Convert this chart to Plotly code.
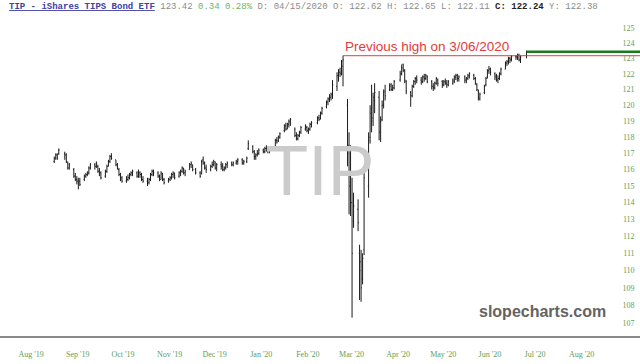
import numpy as np
import pandas as pd
import plotly.graph_objects as go

# ---------------- data ----------------
holidays = ["2019-09-02", "2019-11-28", "2019-12-25", "2020-01-01", "2020-01-20",
            "2020-02-17", "2020-04-10", "2020-05-25", "2020-07-03"]
dates = [d for d in pd.bdate_range("2019-08-27", "2020-07-06")
         if d.strftime("%Y-%m-%d") not in holidays]

open_ = [
    116.5, 116.7, 116.9, 117.0,
    117.0, 116.9, 116.4, 116.1, 116.0, 115.6, 115.4, 115.3, 115.3, 115.4, 115.6, 115.7, 115.8, 116.1,
    116.3, 116.2, 116.2, 115.9, 115.8, 115.6,
    115.9, 116.2, 116.5, 116.8, 116.6, 116.3, 116.0, 115.7, 115.5, 115.3, 115.4, 115.5, 115.7, 115.8,
    115.8, 115.6, 115.8, 115.7, 115.4, 115.3, 115.2, 115.4, 115.7,
    115.9, 115.8, 115.6, 115.4, 115.7, 115.4, 115.3, 115.4, 115.5, 115.7, 115.8, 115.6, 115.8, 115.9,
    116.1, 115.8, 116.0, 116.3, 116.3, 116.0,
    115.8, 115.8, 116.6, 116.4, 116.1, 116.0, 116.2, 116.3, 116.4, 116.1, 116.3, 116.2, 116.0, 116.1,
    116.3, 116.4, 116.3, 116.4, 116.5, 116.6, 116.4,
    116.5, 117.3, 117.4, 117.1, 116.8, 116.9, 117.0, 117.2, 117.1, 117.3, 117.3, 117.2, 117.4, 117.8,
    117.8, 118.0, 118.4, 118.7, 118.5, 118.8, 118.9,
    118.5, 118.1, 117.9, 118.1, 118.3, 118.5, 118.6, 118.4, 118.5, 118.8, 118.9, 119.2, 119.2, 119.5,
    119.9, 120.2, 120.4, 120.5, 120.6,
    121.2, 121.8, 122.1, 122.1, 122.5, 120.0, 117.5, 115.2, 114.0, 112.9, 113.6, 111.0, 110.5, 109.5,
    111.2, 115.0, 118.0, 119.8, 119.2, 120.3, 120.5, 118.4,
    119.1, 120.0, 120.9, 121.0, 121.3, 121.0, 121.1, 121.6, 122.0, 122.62, 122.2, 121.5, 120.8, 120.6,
    121.2, 121.5, 121.7, 121.6, 121.5, 121.8, 121.7,
    121.8, 121.5, 121.2, 121.1, 121.4, 121.6, 121.5, 121.3, 121.5, 121.4, 121.3, 121.4, 121.5, 121.8,
    121.9, 121.7, 121.8, 121.6, 121.7, 121.8,
    121.9, 121.7, 121.3, 120.9, 120.4, 120.8, 121.3, 121.8, 122.2, 122.3, 122.0, 121.9, 121.6, 121.7,
    122.0, 122.3, 122.7, 122.8, 123.0, 122.9, 123.1, 123.1,
    123.2, 122.9, 123.2,
]
high = [
    116.8, 117.0, 117.0, 117.3,
    117.1, 117.0, 116.5, 116.4, 116.1, 115.8, 115.6, 115.5, 115.5, 115.7, 115.8, 115.9, 116.2, 116.4,
    116.4, 116.5, 116.3, 116.1, 115.9, 116.0,
    116.3, 116.6, 116.9, 117.0, 116.6, 116.4, 116.1, 115.8, 115.6, 115.6, 115.7, 115.8, 115.9, 116.0,
    115.9, 116.0, 115.9, 115.8, 115.6, 115.5, 115.5, 115.8, 116.0,
    116.0, 115.9, 115.7, 115.9, 115.8, 115.5, 115.5, 115.6, 115.8, 115.9, 115.8, 115.9, 116.0, 116.2,
    116.1, 116.0, 116.4, 116.5, 116.3, 116.1,
    115.9, 116.6, 116.8, 116.5, 116.3, 116.3, 116.5, 116.6, 116.5, 116.4, 116.5, 116.4, 116.2, 116.4,
    116.5, 116.5, 116.5, 116.6, 116.7, 116.7, 116.6,
    116.8, 117.8, 117.5, 117.2, 117.0, 117.2, 117.3, 117.3, 117.4, 117.5, 117.4, 117.4, 117.9, 118.0,
    118.1, 118.3, 118.8, 118.9, 118.9, 119.1, 119.2,
    118.6, 118.3, 118.2, 118.4, 118.7, 118.8, 118.7, 118.6, 118.9, 119.0, 119.3, 119.4, 119.6, 119.9,
    120.3, 120.5, 120.7, 120.8, 121.6,
    122.1, 122.3, 122.4, 122.9, 123.17, 120.4, 118.3, 117.5, 115.5, 114.6, 114.2, 111.5, 111.2, 111.0,
    116.2, 118.3, 120.0, 121.3, 120.8, 121.4, 120.9, 119.3,
    120.3, 121.0, 121.3, 121.4, 121.4, 121.3, 121.6, 122.2, 122.6, 122.65, 122.3, 121.6, 120.9, 121.3,
    121.6, 121.8, 121.9, 121.8, 121.9, 122.0, 122.0,
    121.9, 121.6, 121.4, 121.5, 121.8, 121.7, 121.6, 121.6, 121.7, 121.6, 121.6, 121.7, 121.9, 122.0,
    122.0, 121.9, 121.9, 121.8, 122.0, 122.1,
    122.0, 121.8, 121.4, 121.0, 120.8, 121.3, 121.8, 122.3, 122.5, 122.4, 122.1, 122.0, 121.9, 122.1,
    122.4, 122.8, 122.9, 123.1, 123.1, 123.2, 123.2, 123.3,
    123.3, 123.2, 123.5,
]
low = [
    116.4, 116.6, 116.6, 116.9,
    116.6, 116.4, 116.0, 116.0, 115.5, 115.3, 115.1, 114.8, 115.0, 115.3, 115.5, 115.6, 115.7, 116.0,
    116.0, 116.1, 115.8, 115.6, 115.4, 115.5,
    115.8, 116.2, 116.4, 116.6, 116.2, 116.0, 115.6, 115.3, 115.2, 115.2, 115.3, 115.4, 115.6, 115.6,
    115.5, 115.5, 115.5, 115.3, 115.2, 115.0, 115.1, 115.3, 115.6,
    115.6, 115.5, 115.3, 115.4, 115.3, 115.1, 115.2, 115.3, 115.4, 115.5, 115.4, 115.5, 115.6, 115.8,
    115.7, 115.6, 116.0, 116.1, 115.9, 115.7,
    115.5, 115.7, 116.3, 116.0, 115.8, 115.9, 116.1, 116.2, 116.0, 115.9, 116.0, 115.9, 115.9, 116.0,
    116.1, 116.2, 116.2, 116.3, 116.3, 116.3, 116.3,
    116.4, 117.2, 117.0, 116.6, 116.6, 116.8, 116.9, 117.0, 117.0, 117.1, 117.0, 117.0, 117.4, 117.6,
    117.7, 117.9, 118.3, 118.4, 118.5, 118.6, 118.7,
    118.0, 117.8, 117.8, 118.0, 118.2, 118.4, 118.3, 118.2, 118.4, 118.6, 118.8, 119.0, 119.1, 119.4,
    119.8, 120.0, 120.2, 120.3, 120.4,
    120.9, 121.5, 121.8, 121.9, 121.2, 116.2, 113.3, 113.2, 107.3, 112.5, 112.3, 108.3, 108.2, 109.2,
    110.9, 114.3, 117.6, 118.3, 118.7, 119.5, 117.8, 117.7,
    119.0, 119.8, 120.3, 120.9, 120.9, 120.9, 121.0, 121.5, 121.9, 122.11, 121.4, 120.7, 119.9, 120.5,
    121.1, 121.3, 121.4, 121.3, 121.4, 121.5, 121.6,
    121.4, 121.0, 120.9, 121.0, 121.3, 121.2, 121.1, 121.2, 121.3, 121.1, 121.2, 121.3, 121.4, 121.6,
    121.5, 121.5, 121.4, 121.4, 121.6, 121.7,
    121.6, 121.3, 120.9, 120.3, 120.3, 120.7, 121.2, 121.7, 122.0, 121.9, 121.6, 121.5, 121.4, 121.6,
    121.9, 122.3, 122.5, 122.6, 122.7, 122.8, 122.9, 122.9,
    122.8, 122.7, 123.0,
]
close = [
    116.7, 116.9, 116.7, 117.2,
    116.9, 116.5, 116.1, 116.3, 115.6, 115.4, 115.3, 115.2, 115.1, 115.6, 115.7, 115.8, 116.1, 116.3,
    116.2, 116.4, 115.9, 115.8, 115.5, 115.9,
    116.2, 116.5, 116.8, 116.7, 116.3, 116.1, 115.7, 115.4, 115.3, 115.4, 115.5, 115.7, 115.8, 115.9,
    115.6, 115.8, 115.7, 115.4, 115.3, 115.2, 115.4, 115.7, 115.9,
    115.8, 115.6, 115.4, 115.8, 115.4, 115.2, 115.4, 115.5, 115.7, 115.8, 115.5, 115.8, 115.9, 116.1,
    115.8, 115.9, 116.3, 116.4, 116.0, 115.8,
    115.6, 116.5, 116.4, 116.1, 116.0, 116.2, 116.3, 116.5, 116.1, 116.3, 116.2, 116.0, 116.1, 116.3,
    116.4, 116.3, 116.4, 116.5, 116.6, 116.4, 116.5,
    116.7, 117.6, 117.1, 116.8, 116.9, 117.0, 117.2, 117.1, 117.3, 117.3, 117.2, 117.1, 117.8, 117.7,
    118.0, 118.2, 118.7, 118.5, 118.8, 119.0, 119.1,
    118.1, 117.9, 118.1, 118.3, 118.6, 118.7, 118.4, 118.5, 118.8, 118.9, 119.2, 119.1, 119.5, 119.8,
    120.2, 120.4, 120.5, 120.7, 121.3,
    121.9, 122.1, 122.0, 122.8, 122.9, 117.0, 115.0, 114.0, 111.0, 113.8, 112.8, 110.0, 109.0, 110.7,
    115.5, 117.8, 119.5, 119.0, 120.5, 120.8, 118.3, 119.0,
    120.0, 120.8, 120.6, 121.2, 121.0, 121.1, 121.5, 122.0, 122.38, 122.24, 121.6, 120.9, 120.6, 121.2,
    121.5, 121.7, 121.6, 121.5, 121.8, 121.7, 121.9,
    121.5, 121.2, 121.1, 121.4, 121.7, 121.4, 121.3, 121.5, 121.4, 121.3, 121.5, 121.6, 121.8, 121.9,
    121.7, 121.8, 121.6, 121.7, 121.9, 122.0,
    121.7, 121.4, 121.0, 120.5, 120.7, 121.2, 121.7, 122.2, 122.3, 122.1, 121.8, 121.6, 121.7, 122.0,
    122.3, 122.7, 122.8, 123.0, 122.9, 123.1, 123.1, 123.2,
    122.9, 123.08, 123.42,
]

month_ticks = ["2019-08-01", "2019-09-01", "2019-10-01", "2019-11-01", "2019-12-01", "2020-01-01",
               "2020-02-01", "2020-03-01", "2020-04-01", "2020-05-01", "2020-06-01", "2020-07-01",
               "2020-08-01"]
month_labels = ["Aug '19", "Sep '19", "Oct '19", "Nov '19", "Dec '19", "Jan '20", "Feb '20",
                "Mar '20", "Apr '20", "May '20", "Jun '20", "Jul '20", "Aug '20"]
price_ticks = [107, 108, 109, 110, 111, 112, 113, 114, 115, 116, 117, 118, 119, 120, 121, 122, 123, 124, 125]

prev_high_date = "2020-03-06"
line_end_date = "2020-12-31"
x_range = ["2019-07-21 22:00", "2020-09-19 11:00"]
y_range_log = [2.026409, 2.103244]

assert len(dates) == len(open_) == len(high) == len(low) == len(close)

prev_high = high[[d.strftime("%Y-%m-%d") for d in dates].index(prev_high_date)]
last_price = close[-1]

# ---------------- figure ----------------
GREEN_TXT = "#5e9e5e"
fig = go.Figure()

x0 = pd.Timestamp(x_range[0]); x1 = pd.Timestamp(x_range[1])
wm_x = x0 + (x1 - x0) / 2
wm_y = 10 ** (y_range_log[1] - 0.527 * (y_range_log[1] - y_range_log[0]))
fig.add_trace(go.Scatter(x=[wm_x], y=[wm_y], mode="text", text=["TIP"],
                         textposition="middle center",
                         textfont=dict(family="Liberation Sans, Arial", size=70, color="#cbcbcb"),
                         hoverinfo="skip", showlegend=False))

fig.add_trace(go.Ohlc(x=dates, open=open_, high=high, low=low, close=close,
                      increasing=dict(line=dict(color="#1a1a1a", width=1)),
                      decreasing=dict(line=dict(color="#1a1a1a", width=1)),
                      tickwidth=0.5, showlegend=False, hoverinfo="skip"))

fig.add_trace(go.Scatter(x=[prev_high_date, line_end_date], y=[prev_high, prev_high],
                         mode="lines", line=dict(color="#e23b3b", width=1),
                         hoverinfo="skip", showlegend=False))
fig.add_trace(go.Scatter(x=[dates[-1], line_end_date], y=[last_price, last_price],
                         mode="lines", line=dict(color="#1c7a1c", width=2.5),
                         hoverinfo="skip", showlegend=False))

header = ('<span style="color:#4040a8"><b><u>TIP - iShares TIPS Bond ETF</u></b></span>'
          ' 123.42 <span style="color:#6db36d">0.34 0.28%</span>'
          ' D: 04/15/2020 O: 122.62 H: 122.65 L: 122.11 '
          '<span style="color:#222"><b>C: 122.24</b></span> Y: 122.38')

fig.update_layout(
    width=640, height=364,
    margin=dict(l=0, r=0, t=0, b=28),
    paper_bgcolor="white", plot_bgcolor="white",
    showlegend=False,
    xaxis=dict(type="date", range=x_range, rangeslider=dict(visible=False),
               showgrid=False, zeroline=False, showline=True, linecolor="#8a8a8a", linewidth=2,
               ticks="", tickvals=month_ticks, ticktext=month_labels,
               tickfont=dict(family="Liberation Serif, Times New Roman, serif", size=8, color=GREEN_TXT),
               ticklabelshift=16, ticklabelstandoff=9),
    yaxis=dict(type="log", range=y_range_log, side="right", ticklabelposition="inside",
               showgrid=False, zeroline=False, showline=False,
               ticks="inside", ticklen=4, tickcolor="rgba(0,0,0,0)",
               tickvals=price_ticks, ticktext=[str(v) for v in price_ticks],
               tickfont=dict(family="Liberation Serif, Times New Roman, serif", size=8, color=GREEN_TXT)),
    annotations=[
        dict(xref="paper", yref="paper", x=0.0105, y=0.978, xanchor="left", yanchor="middle",
             text=header, showarrow=False,
             font=dict(family="Liberation Mono, Courier New, monospace", size=9, color="#8c8c8c")),
        dict(xref="x", yref="y", x=prev_high_date, y=np.log10(prev_high), xanchor="left", yanchor="bottom",
             text="Previous high on 3/06/2020", showarrow=False,
             font=dict(family="Liberation Sans, Arial", size=13.5, color="#e23b3b")),
        dict(xref="paper", yref="paper", x=608 / 640, y=0.0744, xanchor="right", yanchor="middle",
             text="<b>slopecharts.com</b>", showarrow=False,
             font=dict(family="Liberation Sans, Arial", size=16, color="#636363")),
    ],
)

fig.write_html("out.html")
